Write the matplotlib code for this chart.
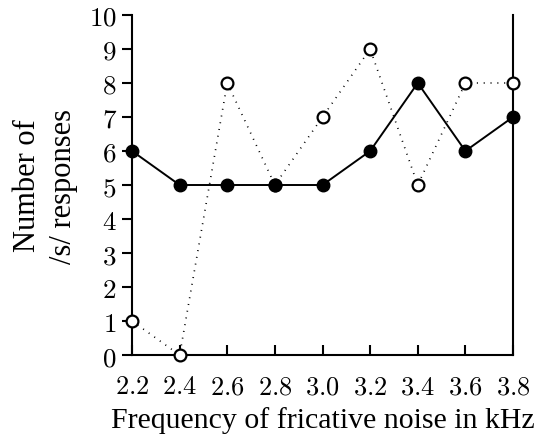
import matplotlib
matplotlib.use('Agg')
import matplotlib.pyplot as plt

freqs = [2.2, 2.4, 2.6, 2.8, 3.0, 3.2, 3.4, 3.6, 3.8]
filled = [6, 5, 5, 5, 5, 6, 8, 6, 7]
hollow = [1, 0, 8, 5, 7, 9, 5, 8, 8]
xtick_labels = ['2.2', '2.4', '2.6', '2.8', '3.0', '3.2', '3.4', '3.6', '3.8']
yticks = list(range(0, 11))

plt.rcParams['mathtext.fontset'] = 'cm'

fig = plt.figure(figsize=(5.46, 4.39), dpi=100)
ax = fig.add_axes([0.2418, 0.189, 0.6978, 0.7746])

ax.plot(freqs, hollow, linestyle=(0, (0.6, 3.5)), color='black', linewidth=1.2,
        marker='o', markersize=8.5, markerfacecolor='white', markeredgecolor='black',
        markeredgewidth=1.6, clip_on=False, zorder=3)
ax.plot(freqs, filled, linestyle='-', color='black', linewidth=1.4,
        marker='o', markersize=9, markerfacecolor='black', markeredgecolor='black',
        clip_on=False, zorder=4)

ax.set_xlim(2.2, 3.8)
ax.set_ylim(0, 10)
ax.spines['top'].set_visible(False)
for s in ['left', 'right', 'bottom']:
    ax.spines[s].set_linewidth(1.5)

ax.set_xticks(freqs)
ax.set_xticklabels(['$' + t + '$' for t in xtick_labels], fontsize=19)
ax.set_yticks(yticks)
ax.set_yticklabels(['$%d$' % v for v in yticks], fontsize=19.5)
ax.tick_params(axis='x', direction='in', length=7, width=1.5, pad=13)
ax.tick_params(axis='y', direction='out', length=7, width=1.5, pad=4)

ax.set_xlabel('Frequency of fricative noise in kHz', fontfamily='Liberation Serif', fontsize=21.5, labelpad=5)
ax.set_ylabel('Number of\n/s/ responses', fontfamily='Liberation Serif', fontsize=22, labelpad=8,
              linespacing=1.3)

fig.savefig('out.png', dpi=100)
